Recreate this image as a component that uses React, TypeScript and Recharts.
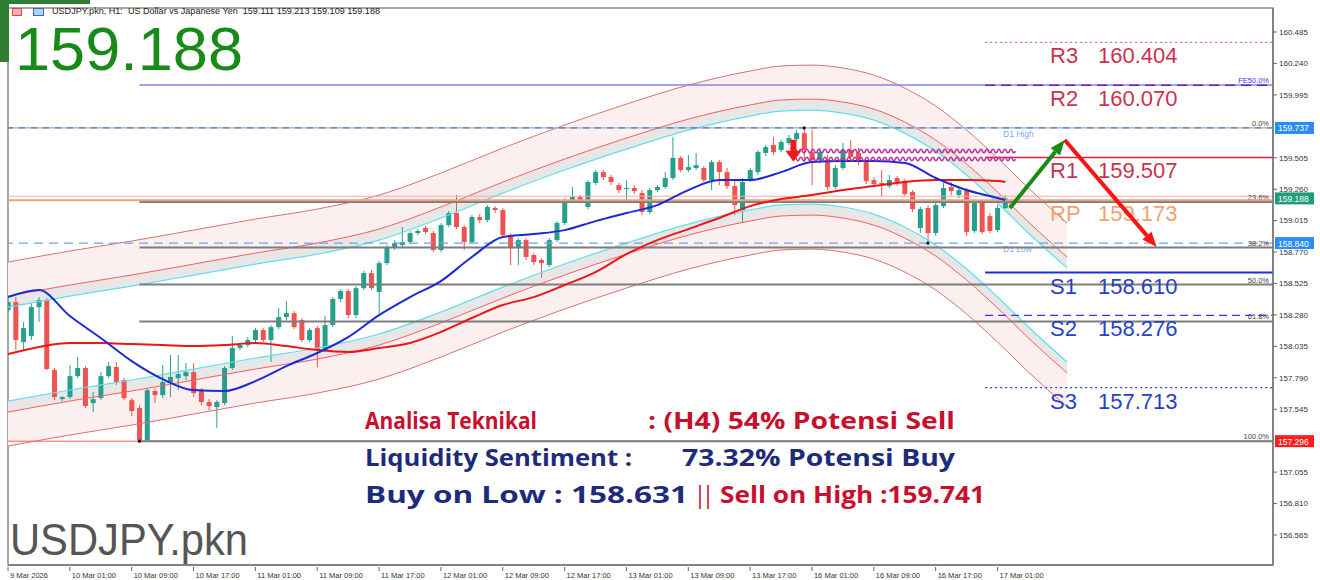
import React from "react";
import {
  Area,
  Bar,
  ComposedChart,
  Line,
  ReferenceArea,
  ReferenceDot,
  ReferenceLine,
  XAxis,
  YAxis,
} from "recharts";

const FONT = "Liberation Sans, Arial, sans-serif";
const BOLD = "Open Sans, Liberation Sans, sans-serif";

// USDJPY H1 bars, 9 Mar 17:00 .. 17 Mar 02:00
const open = [
  158.318, 158.38, 158.068, 158.115, 158.341, 158.396, 157.85, 157.624, 157.64, 157.803,
  157.866, 157.593, 157.632, 157.803, 157.874, 157.772, 157.616, 157.554, 157.305, 157.687,
  157.655, 157.757, 157.788, 157.803, 157.835, 157.687, 157.601, 157.562, 157.593, 157.866,
  158.022, 158.045, 158.084, 158.162, 158.084, 158.185, 158.263, 158.294, 158.24, 158.084,
  158.177, 158.006, 158.201, 158.404, 158.466, 158.279, 158.489, 158.606, 158.458, 158.684,
  158.809, 158.824, 158.848, 158.918, 158.957, 158.918, 158.786, 158.98, 159.074, 158.965,
  158.848, 159.043, 159.019, 159.113, 159.097, 158.902, 158.801, 158.863, 158.747, 158.708,
  158.669, 158.863, 158.996, 159.175, 159.199, 159.121, 159.308, 159.393, 159.354, 159.292,
  159.261, 159.269, 159.23, 159.082, 159.253, 159.277, 159.347, 159.503, 159.409, 159.425,
  159.425, 159.331, 159.471, 159.393, 159.284, 159.097, 159.331, 159.393, 159.542, 159.604,
  159.565, 159.62, 159.651, 159.697, 159.549, 159.487, 159.487, 159.277, 159.425, 159.565,
  159.542, 159.471, 159.331, 159.308, 159.284, 159.347, 159.323, 159.238, 158.957, 159.113,
  158.918, 159.128, 159.277, 159.214, 159.253, 158.934, 159.152, 159.05, 158.941, 159.111,
];
const high = [
  158.411, 158.419, 158.224, 158.372, 158.419, 158.411, 157.866, 157.647, 157.889, 157.952,
  157.881, 157.679, 157.835, 157.913, 157.913, 157.788, 157.632, 157.577, 157.71, 157.71,
  157.889, 157.967, 157.967, 157.905, 157.905, 157.71, 157.624, 157.616, 157.881, 158.115,
  158.061, 158.107, 158.177, 158.177, 158.201, 158.333, 158.388, 158.31, 158.255, 158.177,
  158.193, 158.271, 158.419, 158.481, 158.481, 158.505, 158.622, 158.63, 158.7, 158.824,
  158.863, 158.965, 158.934, 158.949, 158.973, 158.934, 158.996, 159.089, 159.214, 158.98,
  159.058, 159.066, 159.136, 159.128, 159.113, 158.918, 158.879, 158.879, 158.762, 158.723,
  158.879, 159.011, 159.191, 159.277, 159.214, 159.331, 159.409, 159.409, 159.37, 159.308,
  159.331, 159.292, 159.253, 159.269, 159.292, 159.393, 159.666, 159.518, 159.526, 159.542,
  159.44, 159.487, 159.487, 159.425, 159.331, 159.347, 159.425, 159.565, 159.604, 159.666,
  159.643, 159.682, 159.721, 159.737, 159.721, 159.581, 159.526, 159.448, 159.62, 159.643,
  159.581, 159.487, 159.354, 159.409, 159.37, 159.362, 159.339, 159.253, 159.121, 159.136,
  159.175, 159.308, 159.316, 159.284, 159.269, 159.175, 159.175, 159.074, 159.136, 159.213,
];
const low = [
  158.302, 158.006, 158.006, 158.084, 158.224, 157.85, 157.616, 157.608, 157.624, 157.788,
  157.554, 157.523, 157.616, 157.788, 157.733, 157.616, 157.492, 157.296, 157.3, 157.593,
  157.632, 157.64, 157.694, 157.772, 157.64, 157.577, 157.538, 157.398, 157.577, 157.85,
  158.006, 158.03, 158.068, 158.068, 157.913, 158.17, 158.24, 158.17, 158.068, 158.068,
  157.874, 157.991, 158.185, 158.38, 158.255, 158.255, 158.474, 158.474, 158.294, 158.669,
  158.786, 158.809, 158.832, 158.902, 158.91, 158.77, 158.77, 158.965, 158.949, 158.786,
  158.832, 158.996, 159.004, 159.074, 158.887, 158.669, 158.669, 158.708, 158.669, 158.567,
  158.653, 158.848, 158.98, 159.16, 159.152, 159.105, 159.292, 159.331, 159.292, 159.23,
  159.152, 159.222, 159.058, 159.066, 159.238, 159.261, 159.331, 159.393, 159.393, 159.409,
  159.316, 159.253, 159.292, 159.261, 159.058, 159.004, 159.316, 159.37, 159.518, 159.526,
  159.549, 159.604, 159.635, 159.471, 159.292, 159.464, 159.253, 159.261, 159.409, 159.487,
  159.448, 159.3, 159.277, 159.199, 159.269, 159.284, 159.206, 159.082, 158.918, 158.84,
  158.895, 159.113, 159.214, 159.191, 158.895, 158.918, 158.91, 158.918, 158.926, 159.109,
];
const close = [
  158.38, 158.084, 158.177, 158.341, 158.396, 157.858, 157.64, 157.64, 157.803, 157.866,
  157.57, 157.624, 157.803, 157.881, 157.757, 157.632, 157.531, 157.305, 157.694, 157.655,
  157.757, 157.796, 157.819, 157.835, 157.671, 157.601, 157.57, 157.601, 157.866, 158.022,
  158.045, 158.084, 158.162, 158.084, 158.185, 158.263, 158.294, 158.185, 158.084, 158.162,
  158.006, 158.201, 158.404, 158.466, 158.279, 158.489, 158.606, 158.489, 158.684, 158.809,
  158.84, 158.848, 158.918, 158.934, 158.926, 158.786, 158.98, 159.074, 158.965, 158.848,
  159.043, 159.019, 159.121, 159.097, 158.902, 158.801, 158.863, 158.731, 158.692, 158.684,
  158.863, 158.996, 159.175, 159.199, 159.175, 159.316, 159.393, 159.354, 159.316, 159.253,
  159.269, 159.245, 159.082, 159.253, 159.277, 159.347, 159.503, 159.409, 159.432, 159.448,
  159.331, 159.471, 159.393, 159.284, 159.136, 159.316, 159.409, 159.549, 159.588, 159.549,
  159.627, 159.658, 159.697, 159.565, 159.487, 159.549, 159.277, 159.425, 159.565, 159.51,
  159.471, 159.323, 159.3, 159.3, 159.331, 159.308, 159.222, 159.105, 159.105, 158.918,
  159.136, 159.269, 159.245, 159.253, 158.926, 159.152, 158.926, 158.934, 159.113, 159.188,
];

// moving averages, read every 4 bars
const maIdx = [0, 4, 8, 12, 16, 20, 24, 28, 32, 36, 40, 44, 48, 52, 56, 60, 64, 68, 72, 76, 80, 84, 88, 92, 96, 100, 104, 108, 112, 116, 120, 124, 128, 129];
const maBlue = [
  158.419, 158.474, 158.271, 158.1, 157.92, 157.78, 157.694, 157.687, 157.764, 157.881,
  157.983, 158.107, 158.279, 158.419, 158.544, 158.731, 158.887, 158.91, 158.941, 159.011,
  159.074, 159.136, 159.253, 159.331, 159.331, 159.393, 159.471, 159.479, 159.479, 159.464,
  159.347, 159.253, 159.191, 159.175,
];
const maRed = [
  157.975, 158.03, 158.061, 158.061, 158.053, 158.045, 158.037, 158.045, 158.061, 158.037,
  158.006, 157.991, 158.022, 158.061, 158.147, 158.256, 158.357, 158.419, 158.513, 158.614,
  158.754, 158.863, 158.949, 159.035, 159.128, 159.183, 159.214, 159.253, 159.284, 159.316,
  159.331, 159.331, 159.323, 159.316,
];

// regression channel lines
const bandIdx = [0, 8, 16, 24, 32, 40, 48, 56, 64, 72, 80, 88, 96, 100, 104, 108, 112, 116, 120, 124, 128, 132, 137];
const bandUpOuter = [158.692, 158.778, 158.856, 158.941, 159.027, 159.105, 159.214, 159.386, 159.58, 159.76, 159.923, 160.071, 160.181, 160.22, 160.227, 160.204, 160.149, 160.048, 159.908, 159.721, 159.503, 159.269, 158.996];
const bandUpMid = [158.427, 158.513, 158.591, 158.676, 158.762, 158.84, 158.949, 159.121, 159.315, 159.495, 159.658, 159.806, 159.916, 159.955, 159.962, 159.939, 159.884, 159.783, 159.643, 159.456, 159.238, 159.004, 158.731];
const bandUpCyan = [158.341, 158.427, 158.505, 158.59, 158.676, 158.754, 158.863, 159.035, 159.229, 159.409, 159.572, 159.72, 159.83, 159.869, 159.876, 159.853, 159.798, 159.697, 159.557, 159.37, 159.152, 158.918, 158.645];
const bandLoCyan = [157.609, 157.695, 157.773, 157.858, 157.944, 158.022, 158.131, 158.303, 158.497, 158.677, 158.84, 158.988, 159.098, 159.137, 159.144, 159.121, 159.066, 158.965, 158.825, 158.638, 158.42, 158.186, 157.913];
const bandLoMid = [157.523, 157.609, 157.687, 157.772, 157.858, 157.936, 158.045, 158.217, 158.411, 158.591, 158.754, 158.902, 159.012, 159.051, 159.058, 159.035, 158.98, 158.879, 158.739, 158.552, 158.334, 158.1, 157.827];
const bandLoOuter = [157.258, 157.344, 157.422, 157.507, 157.593, 157.671, 157.78, 157.952, 158.146, 158.326, 158.489, 158.637, 158.747, 158.786, 158.793, 158.77, 158.715, 158.614, 158.474, 158.287, 158.069, 157.835, 157.562];

const xTickIdx = [0, 8, 16, 24, 32, 40, 48, 56, 64, 72, 80, 88, 96, 104, 112, 120, 128];
const xTickText = [
  "9 Mar 2026", "10 Mar 01:00", "10 Mar 09:00", "10 Mar 17:00", "11 Mar 01:00", "11 Mar 09:00",
  "11 Mar 17:00", "12 Mar 01:00", "12 Mar 09:00", "12 Mar 17:00", "13 Mar 01:00", "13 Mar 09:00",
  "13 Mar 17:00", "16 Mar 01:00", "16 Mar 09:00", "16 Mar 17:00", "17 Mar 01:00",
];
const yTicks = [160.485, 160.24, 159.995, 159.505, 159.26, 159.015, 158.77, 158.525, 158.28, 158.035, 157.79, 157.545, 157.055, 156.81, 156.565];

const pivotNames = ["R3", "R2", "R1", "RP", "S1", "S2", "S3"];
const pivotValues = [160.404, 160.07, 159.507, 159.173, 158.61, 158.276, 157.713];

const fibNames = ["0.0%", "23.6%", "38.2%", "50.0%", "61.8%", "100.0%"];
const fibValues = [159.737, 159.161, 158.805, 158.517, 158.229, 157.296];

const d1High = 159.737;
const d1Low = 158.84;
const fe50 = 160.072;
const lastPrice = 159.188;

const X_MAX = 163.64;
const Y_MIN = 156.331;
const Y_MAX = 160.672;
const FIB_FROM = 17;
const PIVOT_FROM = 126.4;

const rows: any[] = [];
for (let k = 0; k <= 137; k++) rows.push({ k });
open.forEach((o, k) => {
  Object.assign(rows[k], { o, h: high[k], l: low[k], c: close[k], hl: [low[k], high[k]] });
});
maIdx.forEach((k, i) => Object.assign(rows[k], { blue: maBlue[i], red: maRed[i] }));
bandIdx.forEach((k, i) =>
  Object.assign(rows[k], {
    uo: bandUpOuter[i],
    um: bandUpMid[i],
    uc: bandUpCyan[i],
    lc: bandLoCyan[i],
    lm: bandLoMid[i],
    lo: bandLoOuter[i],
    pinkUp: [bandUpMid[i], bandUpOuter[i]],
    grayUp: [bandUpCyan[i], bandUpMid[i]],
    grayLo: [bandLoMid[i], bandLoCyan[i]],
    pinkLo: [bandLoOuter[i], bandLoMid[i]],
  })
);

function Candle(props: any) {
  const { x, y, width, height, payload } = props;
  if (!payload || payload.o == null || !isFinite(y)) return <g />;
  const { o, h, l, c } = payload;
  const top = Math.min(y, y + height);
  const hgt = Math.abs(height);
  const span = h - l || 1;
  const py = (v: number) => top + ((h - v) / span) * hgt;
  const color = c >= o ? "#26a08c" : "#ef5350";
  const cx = x + width / 2;
  const b1 = py(Math.max(o, c));
  const b2 = py(Math.min(o, c));
  return (
    <g>
      <line x1={cx} x2={cx} y1={top} y2={top + hgt} stroke={color} strokeWidth={1} />
      <rect x={cx - 2.5} y={b1} width={5} height={Math.max(1, b2 - b1)} fill={color} />
    </g>
  );
}

function XTick(props: any) {
  const { x, y, payload } = props;
  const i = xTickIdx.indexOf(payload.value);
  return (
    <g>
      <line x1={x} x2={x} y1={y} y2={y + 4} stroke="#666" />
      <text x={x + 2} y={y + 11} fontSize={7.5} fill="#333" fontFamily={FONT}>
        {xTickText[i]}
      </text>
    </g>
  );
}

function PivotText(props: any) {
  const { viewBox, tag, num, col } = props;
  const base = viewBox.y + 21;
  return (
    <g fontFamily={FONT} fontSize={22} fill={col}>
      <text x={1050} y={base}>{tag}</text>
      <text x={1098} y={base}>{num}</text>
    </g>
  );
}

function PctText(props: any) {
  const { viewBox, txt, col } = props;
  return (
    <text x={viewBox.x + viewBox.width - 4} y={viewBox.y - 2} textAnchor="end" fontSize={7.5} fill={col} fontFamily={FONT}>
      {txt}
    </text>
  );
}

function SideText(props: any) {
  const { viewBox, txt } = props;
  return (
    <text x={1003} y={viewBox.y + 9} fontSize={8.5} fill="#78aaf5" fontFamily={FONT}>
      {txt}
    </text>
  );
}

function PriceBox(props: any) {
  const { viewBox, txt, bg } = props;
  const x = viewBox.x + viewBox.width + 2;
  return (
    <g>
      <rect x={x} y={viewBox.y - 6} width={39} height={12} fill={bg} />
      <text x={x + 3} y={viewBox.y + 3.5} fontSize={8.5} fill="#fff" fontFamily={FONT}>
        {txt}
      </text>
    </g>
  );
}

const arrow = (color: string) => (p: any) => {
  const { x1, y1, x2, y2 } = p;
  const a = Math.atan2(y2 - y1, x2 - x1);
  const bx = x2 - 15 * Math.cos(a);
  const by = y2 - 15 * Math.sin(a);
  const nx = -Math.sin(a) * 6;
  const ny = Math.cos(a) * 6;
  return (
    <g>
      <line x1={x1} y1={y1} x2={bx} y2={by} stroke={color} strokeWidth={4} />
      <polygon points={`${x2},${y2} ${bx + nx},${by + ny} ${bx - nx},${by - ny}`} fill={color} />
    </g>
  );
};

const wave = (p: any) => {
  const { x1, y1, x2 } = p;
  let d = `M${x1},${y1}`;
  let up = true;
  for (let x = x1; x < x2; x += 3) {
    d += ` Q${x + 1.5},${y1 + (up ? -3.5 : 3.5)} ${x + 3},${y1}`;
    up = !up;
  }
  return <path d={d} fill="none" stroke="#b8359c" strokeWidth={1.6} />;
};

const sellArrow = (p: any) => {
  const { cx, cy } = p;
  return <path d={`M${cx - 3},${cy - 11} h6 v11 h5 l-8,11 l-8,-11 h5 z`} fill="#ee1b1b" />;
};

const dot = (p: any) => <circle cx={p.cx} cy={p.cy} r={1.6} fill="#111" />;

const pivotStyle = [
  { stroke: "#e0506a", dash: "2 3", width: 1, col: "#c93350" },
  { stroke: "#7a2090", dash: "10 6", width: 1.5, col: "#c93350" },
  { stroke: "#dd1e3c", dash: undefined, width: 1.5, col: "#c93350" },
  { stroke: "#f2a07c", dash: undefined, width: 2, col: "#f5a070" },
  { stroke: "#1a2fe0", dash: undefined, width: 2, col: "#2840c8" },
  { stroke: "#3040d8", dash: "8 5", width: 1.2, col: "#2840c8" },
  { stroke: "#3040e0", dash: "2 3", width: 1.2, col: "#2840c8" },
];

export default function App() {
  return (
    <div style={{ position: "absolute", left: 0, top: 0, width: 1320, height: 580, background: "#fff" }}>
      <ComposedChart width={1320} height={580} data={rows} margin={{ top: 8, right: 0, bottom: 0, left: 8 }}>
        <XAxis
          dataKey="k"
          type="number"
          domain={[0, X_MAX]}
          allowDataOverflow
          ticks={xTickIdx}
          interval={0}
          tick={<XTick />}
          tickLine={false}
          tickSize={0}
          height={15}
          axisLine={{ stroke: "#777", strokeWidth: 1.5 }}
        />
        <YAxis
          orientation="right"
          type="number"
          domain={[Y_MIN, Y_MAX]}
          allowDataOverflow
          ticks={yTicks}
          interval={0}
          width={47}
          tickSize={4}
          tickMargin={2}
          tick={{ fontSize: 8, fill: "#333", fontFamily: FONT }}
          tickLine={{ stroke: "#666" }}
          axisLine={{ stroke: "#777", strokeWidth: 1.5 }}
          tickFormatter={(v: number) => v.toFixed(3)}
        />
        <ReferenceArea x1={0} x2={X_MAX} y1={Y_MIN} y2={Y_MAX} fill="none" stroke="#8a8a8a" strokeWidth={1.5} />

        <Area dataKey="pinkUp" type="monotone" stroke="none" fill="#fcefef" fillOpacity={1} connectNulls dot={false} activeDot={false} isAnimationActive={false} />
        <Area dataKey="grayUp" type="monotone" stroke="none" fill="#e7e7e7" fillOpacity={1} connectNulls dot={false} activeDot={false} isAnimationActive={false} />
        <Area dataKey="grayLo" type="monotone" stroke="none" fill="#e7e7e7" fillOpacity={1} connectNulls dot={false} activeDot={false} isAnimationActive={false} />
        <Area dataKey="pinkLo" type="monotone" stroke="none" fill="#fcefef" fillOpacity={1} connectNulls dot={false} activeDot={false} isAnimationActive={false} />
        <Line dataKey="uo" type="monotone" stroke="#d87272" strokeWidth={1} dot={false} connectNulls isAnimationActive={false} />
        <Line dataKey="um" type="monotone" stroke="#ff5a5a" strokeWidth={1} dot={false} connectNulls isAnimationActive={false} />
        <Line dataKey="uc" type="monotone" stroke="#5ee0ea" strokeWidth={1.2} dot={false} connectNulls isAnimationActive={false} />
        <Line dataKey="lc" type="monotone" stroke="#5ee0ea" strokeWidth={1.2} dot={false} connectNulls isAnimationActive={false} />
        <Line dataKey="lm" type="monotone" stroke="#ff5a5a" strokeWidth={1} dot={false} connectNulls isAnimationActive={false} />
        <Line dataKey="lo" type="monotone" stroke="#d87272" strokeWidth={1} dot={false} connectNulls isAnimationActive={false} />

        <ReferenceLine y={d1High} stroke="#7ab0ff" strokeWidth={1.2} label={<SideText txt="D1 High" />} />
        <ReferenceLine y={fibValues[0]} stroke="#777" strokeDasharray="6 6" strokeWidth={1.2} label={<PctText txt={fibNames[0]} col="#444" />} />
        <ReferenceLine y={d1Low} stroke="#6aa4f5" strokeDasharray="9 6" strokeWidth={1.2} label={<SideText txt="D1 Low" />} />
        <ReferenceLine y={159.205} stroke="#f6aaaa" strokeWidth={1} />
        <ReferenceLine y={fibValues[5]} stroke="#ff5a5a" strokeWidth={1} />
        <ReferenceLine
          segment={[{ x: FIB_FROM, y: fe50 }, { x: X_MAX, y: fe50 }]}
          stroke="#8585f2"
          strokeWidth={1.5}
          label={<PctText txt="FE50.0%" col="#3a3aff" />}
        />
        {fibValues.slice(1).map((v, i) => (
          <ReferenceLine
            key={fibNames[i + 1]}
            segment={[{ x: FIB_FROM, y: v }, { x: X_MAX, y: v }]}
            stroke="#7d7d7d"
            strokeWidth={2}
            label={<PctText txt={fibNames[i + 1]} col="#444" />}
          />
        ))}
        {pivotValues.map((v, i) => (
          <ReferenceLine
            key={pivotNames[i]}
            segment={[{ x: pivotNames[i] === "RP" ? 0 : PIVOT_FROM, y: v }, { x: X_MAX, y: v }]}
            stroke={pivotStyle[i].stroke}
            strokeDasharray={pivotStyle[i].dash}
            strokeWidth={pivotStyle[i].width}
            label={<PivotText tag={pivotNames[i]} num={v.toFixed(3)} col={pivotStyle[i].col} />}
          />
        ))}

        <Bar dataKey="hl" barSize={6} shape={Candle} isAnimationActive={false} />

        <Line dataKey="red" type="monotone" stroke="#f01414" strokeWidth={2} dot={false} connectNulls isAnimationActive={false} />
        <Line dataKey="blue" type="monotone" stroke="#1c2ad6" strokeWidth={2} dot={false} connectNulls isAnimationActive={false} />

        <ReferenceLine segment={[{ x: 101.6, y: 159.557 }, { x: 130, y: 159.557 }]} shape={wave} />
        <ReferenceLine segment={[{ x: 101.6, y: 159.495 }, { x: 130, y: 159.495 }]} shape={wave} />
        <ReferenceDot x={101.6} y={159.56} r={6} shape={sellArrow} />
        <ReferenceDot x={FIB_FROM} y={fibValues[5]} r={2} shape={dot} />
        <ReferenceDot x={103} y={d1High} r={2} shape={dot} />
        <ReferenceDot x={119} y={d1Low} r={2} shape={dot} />
        <ReferenceLine segment={[{ x: 129.6, y: 159.113 }, { x: 136.7, y: 159.643 }]} shape={arrow("#178a17")} />
        <ReferenceLine segment={[{ x: 136.7, y: 159.643 }, { x: 148.6, y: 158.809 }]} shape={arrow("#ff1212")} />

        <ReferenceLine y={d1High} stroke="none" label={<PriceBox txt="159.737" bg="#2b8cf5" />} />
        <ReferenceLine y={lastPrice} stroke="none" label={<PriceBox txt="159.188" bg="#1f9c78" />} />
        <ReferenceLine y={d1Low} stroke="none" label={<PriceBox txt="158.840" bg="#2b8cf5" />} />
        <ReferenceLine y={fibValues[5]} stroke="none" label={<PriceBox txt="157.296" bg="#ff1d1d" />} />
      </ComposedChart>

      <svg width={1320} height={580} style={{ position: "absolute", left: 0, top: 0, pointerEvents: "none" }}>
        <rect x={0} y={0} width={9} height={62} fill="#2e7d32" />
        <rect x={0} y={0} width={90} height={4} fill="#2e7d32" />
        <rect x={12.5} y={8.5} width={9} height={7} fill="#f6b0b0" stroke="#d84848" />
        <rect x={33.5} y={8.5} width={10} height={7} fill="#b8d0f4" stroke="#3a66c4" />
        <text x={52} y={14} fontSize={8.5} fill="#222" fontFamily={FONT} textLength={328} lengthAdjust="spacingAndGlyphs" style={{ whiteSpace: "pre" }}>
          USDJPY.pkn, H1:  US Dollar vs Japanese Yen  159.111 159.213 159.109 159.188
        </text>
        <text x={15} y={70} fontSize={61} fill="#178a17" fontFamily={FONT} textLength={228} lengthAdjust="spacingAndGlyphs">
          159.188
        </text>

        <g fontFamily={BOLD} fontWeight={700} fontSize={23}>
          <text x={365} y={429} fill="#c8102e" textLength={172} lengthAdjust="spacingAndGlyphs">Analisa Teknikal</text>
          <text x={648} y={429} fill="#c8102e" textLength={307} lengthAdjust="spacingAndGlyphs">: (H4) 54% Potensi Sell</text>
          <text x={365} y={466} fill="#1e2b7a" textLength={267} lengthAdjust="spacingAndGlyphs">Liquidity Sentiment :</text>
          <text x={682} y={466} fill="#1e2b7a" textLength={273} lengthAdjust="spacingAndGlyphs">73.32% Potensi Buy</text>
          <text x={365} y={503} fill="#1e2b7a" textLength={323} lengthAdjust="spacingAndGlyphs">Buy on Low : 158.631</text>
          <text x={696} y={503} fill="#c8102e" textLength={16} lengthAdjust="spacingAndGlyphs">||</text>
          <text x={720} y={503} fill="#c8102e" textLength={265} lengthAdjust="spacingAndGlyphs">Sell on High :159.741</text>
        </g>

        <text x={10} y={555} fontSize={44} fill="#555" fontFamily={FONT} textLength={238} lengthAdjust="spacingAndGlyphs">
          USDJPY.pkn
        </text>
      </svg>
    </div>
  );
}
